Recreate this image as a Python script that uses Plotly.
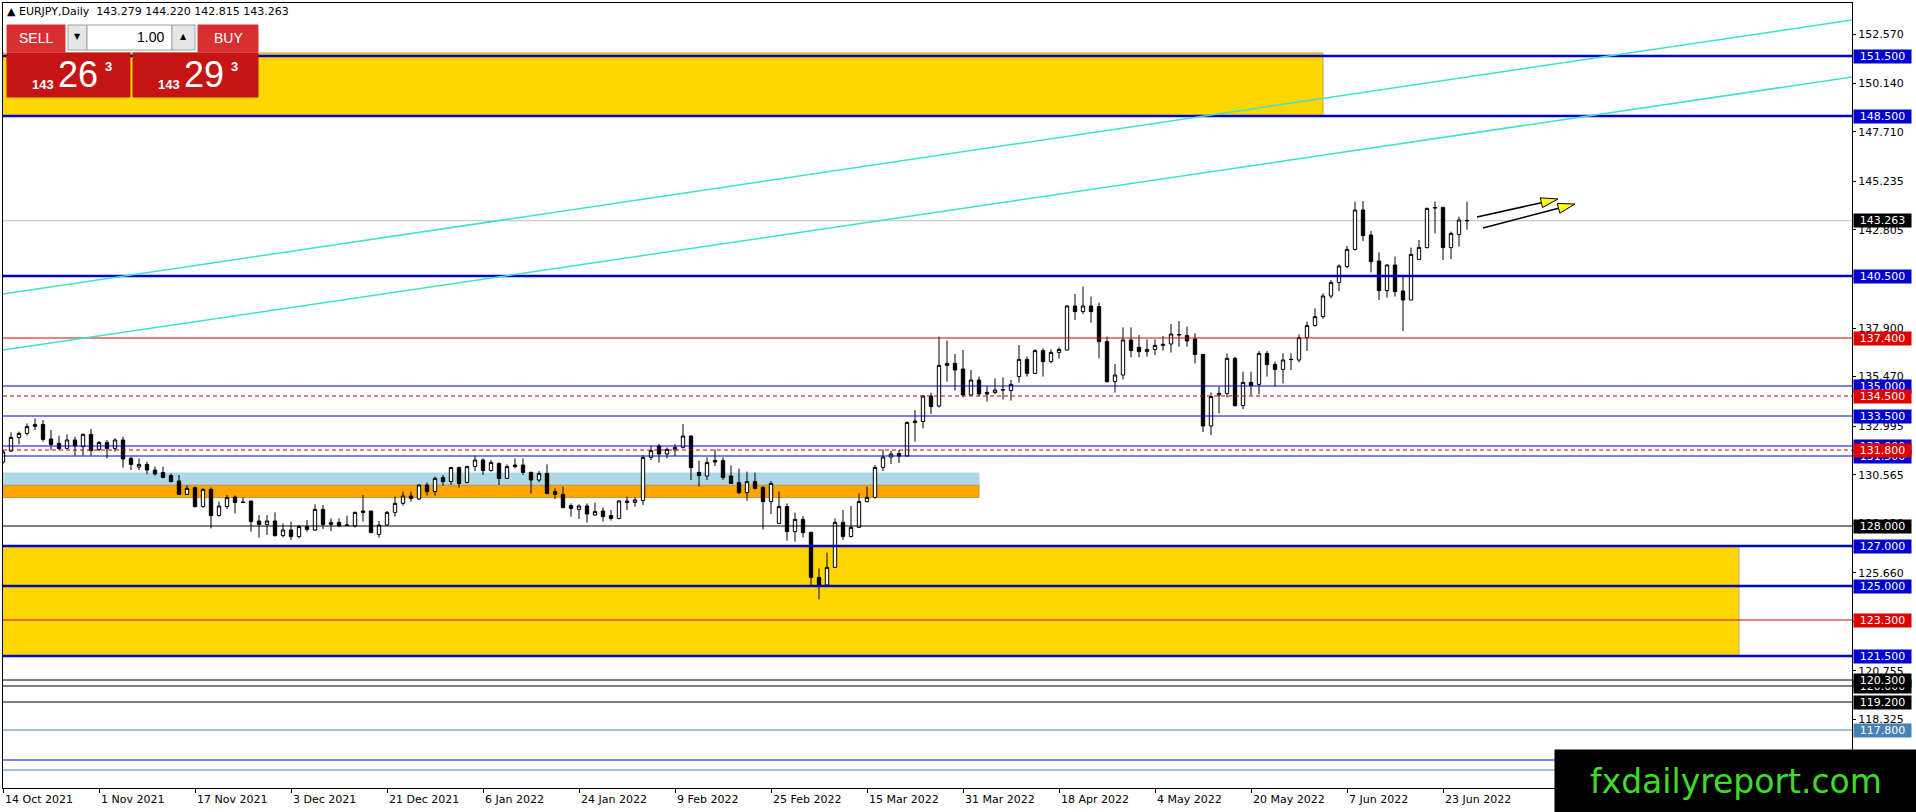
import math
import plotly.graph_objects as go

# EURJPY daily bars, one per weekday from 14 Oct 2021 to 28 Jun 2022
opens = [131.2, 131.75, 132.43, 132.63, 132.98, 133.08, 132.35, 132.13, 131.88, 132.3,
         131.97, 132.58, 131.83, 132.18, 131.88, 132.3, 131.38, 130.95, 131.08, 130.8,
         130.67, 130.52, 130.25, 129.58, 129.92, 128.97, 129.83, 128.52, 128.97, 129.45,
         129.2, 129.25, 128.25, 128.08, 128.25, 127.52, 127.8, 127.47, 127.97, 127.8,
         128.83, 128.08, 128.18, 128.02, 128.0, 128.75, 128.75, 127.58, 128.05, 128.68,
         129.13, 129.5, 129.35, 130.05, 129.72, 130.42, 130.22, 130.92, 130.18, 130.97,
         131.3, 130.77, 131.13, 130.38, 131.05, 131.05, 130.68, 130.3, 130.63, 129.72,
         129.58, 129.02, 128.83, 129.0, 128.55, 128.75, 128.52, 128.38, 129.25, 129.18,
         129.27, 131.43, 132.0, 131.6, 131.8, 131.93, 132.5, 130.68, 130.5, 131.27,
         131.27, 130.5, 130.17, 129.67, 130.22, 129.93, 129.22, 128.13, 128.97, 127.72,
         128.33, 127.68, 125.43, 125.05, 125.93, 128.18, 127.47, 127.93, 129.22, 129.43,
         130.93, 131.45, 131.62, 131.5, 133.25, 133.22, 134.5, 134.0, 136.03, 136.13,
         135.85, 134.55, 135.3, 134.68, 134.67, 134.8, 134.77, 135.47, 136.33, 135.63,
         136.77, 136.22, 136.68, 136.8, 139.0, 138.72, 139.0, 138.97, 137.22, 135.22,
         135.55, 137.3, 136.93, 136.72, 136.83, 137.03, 137.1, 137.55, 137.52, 137.35,
         136.58, 133.0, 134.55, 134.63, 136.38, 134.02, 135.18, 135.08, 136.63, 136.08,
         135.83, 136.32, 136.3, 137.42, 138.02, 138.47, 139.5, 140.18, 140.97, 141.83,
         143.8, 142.55, 141.25, 139.77, 141.05, 139.75, 139.3, 141.33, 141.92, 143.9,
         143.93, 141.92, 142.58, 143.279]
highs = [131.8, 132.68, 132.72, 133.13, 133.38, 133.3, 132.8, 132.52, 132.58, 132.47,
         132.63, 132.85, 132.25, 132.3, 132.38, 132.47, 131.47, 131.38, 131.22, 130.97,
         130.97, 130.63, 130.55, 130.05, 129.97, 129.88, 129.92, 129.22, 129.55, 129.52,
         129.42, 129.25, 128.55, 128.55, 128.68, 128.13, 128.22, 128.05, 128.3, 129.08,
         129.05, 128.38, 128.38, 128.52, 128.72, 129.55, 128.75, 128.25, 128.75, 129.47,
         129.72, 129.72, 130.08, 130.18, 130.47, 130.55, 130.97, 130.97, 131.02, 131.52,
         131.38, 131.3, 131.18, 131.08, 131.38, 131.38, 130.72, 130.75, 131.08, 129.88,
         129.97, 129.13, 129.08, 129.13, 129.17, 128.93, 128.8, 129.3, 129.47, 129.43,
         131.55, 132.0, 132.1, 131.93, 132.1, 133.1, 132.53, 131.27, 131.43, 131.83,
         131.43, 131.03, 130.87, 130.72, 130.67, 130.0, 130.25, 129.72, 129.13, 128.67,
         128.5, 127.72, 125.88, 126.67, 128.38, 128.8, 129.0, 129.63, 129.97, 131.05,
         131.83, 131.75, 131.8, 133.22, 133.8, 134.55, 134.67, 137.47, 137.27, 136.6,
         136.8, 135.8, 135.47, 135.0, 135.38, 135.43, 135.3, 137.05, 136.47, 136.83,
         136.88, 136.83, 136.93, 139.05, 139.6, 139.97, 139.47, 139.17, 137.47, 136.1,
         137.93, 137.93, 137.55, 137.33, 137.33, 137.5, 138.1, 138.25, 137.97, 137.63,
         136.6, 134.68, 134.97, 136.63, 136.47, 135.72, 135.72, 136.75, 136.75, 136.22,
         136.63, 136.63, 137.58, 138.22, 138.88, 139.63, 140.3, 141.08, 142.0, 144.22,
         144.25, 142.75, 141.68, 141.08, 141.47, 140.47, 141.92, 142.3, 143.92, 144.22,
         143.93, 142.72, 143.47, 144.22]
lows = [131.1, 131.7, 132.08, 132.52, 132.8, 132.22, 131.8, 131.8, 131.85, 131.52,
        131.52, 131.52, 131.75, 131.38, 131.72, 130.92, 130.8, 130.8, 130.58, 130.52,
        130.38, 130.18, 129.55, 129.55, 128.92, 128.92, 127.88, 128.47, 128.85, 128.63,
        129.17, 127.72, 127.42, 127.55, 127.47, 127.43, 127.3, 127.38, 127.72, 127.75,
        127.85, 127.75, 127.97, 128.0, 127.92, 128.22, 127.63, 127.42, 128.0, 128.47,
        129.02, 129.22, 129.3, 129.52, 129.52, 130.02, 130.05, 129.92, 130.13, 130.75,
        130.55, 130.72, 130.05, 130.35, 130.88, 130.55, 129.63, 130.18, 129.58, 129.35,
        128.88, 128.47, 128.35, 128.17, 128.5, 128.22, 128.27, 128.33, 128.8, 128.97,
        129.05, 131.3, 131.17, 131.38, 131.5, 131.87, 130.3, 129.97, 130.3, 131.0,
        130.3, 130.1, 129.6, 129.27, 129.83, 127.83, 128.6, 128.1, 127.27, 127.22,
        127.43, 124.97, 124.33, 124.97, 125.9, 127.3, 127.42, 127.9, 129.18, 129.38,
        130.75, 131.1, 131.15, 131.47, 132.22, 132.88, 133.6, 133.93, 135.22, 134.77,
        134.43, 134.5, 134.5, 134.22, 134.6, 134.33, 134.27, 135.17, 135.47, 135.6,
        135.47, 136.13, 136.37, 136.77, 138.3, 138.6, 138.17, 136.38, 135.17, 134.67,
        135.33, 136.43, 136.43, 136.47, 136.55, 136.77, 136.67, 136.97, 136.97, 136.13,
        132.7, 132.55, 133.63, 134.42, 133.97, 133.85, 134.52, 134.58, 135.47, 134.97,
        135.13, 135.8, 136.18, 136.75, 137.97, 138.35, 139.38, 139.75, 140.88, 141.77,
        142.25, 140.68, 139.3, 139.42, 139.47, 137.75, 139.3, 141.3, 141.88, 142.63,
        141.3, 141.35, 141.97, 142.815]
closes = [131.7, 132.43, 132.63, 132.97, 133.08, 132.33, 132.08, 131.88, 132.3, 132.0,
          132.58, 131.77, 132.18, 131.88, 132.3, 131.35, 131.08, 131.08, 130.8, 130.6,
          130.43, 130.22, 129.58, 129.88, 128.97, 129.83, 128.52, 129.0, 129.42, 129.18,
          129.18, 128.22, 128.08, 128.25, 127.52, 127.8, 127.47, 127.97, 127.83, 128.83,
          128.08, 128.18, 128.0, 128.05, 128.68, 128.68, 127.68, 128.05, 128.68, 129.13,
          129.5, 129.38, 130.05, 129.72, 130.38, 130.22, 130.92, 130.13, 130.97, 131.3,
          130.77, 131.18, 130.38, 130.97, 130.97, 130.68, 130.3, 130.63, 129.63, 129.58,
          128.92, 128.88, 129.0, 128.6, 128.72, 128.47, 128.38, 129.25, 129.18, 129.3,
          131.43, 131.77, 131.6, 131.83, 131.93, 132.5, 130.92, 130.52, 131.17, 131.2,
          130.43, 130.13, 129.67, 130.22, 129.88, 129.22, 130.13, 128.97, 127.72, 128.33,
          127.67, 125.43, 125.05, 125.93, 128.18, 127.47, 127.93, 129.22, 129.43, 130.93,
          131.45, 131.6, 131.5, 133.18, 133.17, 134.5, 133.97, 136.03, 136.13, 135.8,
          134.55, 135.3, 134.6, 134.6, 134.8, 134.82, 135.08, 136.33, 135.63, 136.77,
          136.22, 136.68, 136.83, 139.0, 138.72, 139.0, 138.72, 137.22, 135.22, 135.55,
          137.3, 136.77, 136.72, 136.83, 137.03, 137.08, 137.6, 137.57, 137.25, 136.58,
          133.0, 134.47, 134.63, 136.38, 134.02, 135.18, 135.02, 136.63, 136.08, 135.83,
          136.3, 136.33, 137.42, 138.02, 138.47, 139.5, 140.18, 141.0, 141.83, 143.8,
          142.52, 141.22, 139.77, 141.05, 139.72, 139.3, 141.58, 141.93, 143.88, 143.92,
          141.92, 142.63, 143.3, 143.263]

date_labels = ["14 Oct 2021", "1 Nov 2021", "17 Nov 2021", "3 Dec 2021", "21 Dec 2021",
               "6 Jan 2022", "24 Jan 2022", "9 Feb 2022", "25 Feb 2022", "15 Mar 2022",
               "31 Mar 2022", "18 Apr 2022", "4 May 2022", "20 May 2022", "7 Jun 2022",
               "23 Jun 2022"]
date_bars = [0, 12, 24, 36, 48, 60, 72, 84, 96, 108, 120, 132, 144, 156, 168, 180]

price_ticks = [152.570, 150.140, 147.710, 145.235, 142.805, 140.375, 137.900, 135.470,
               132.995, 130.565, 128.130, 125.660, 123.230, 120.755, 118.325]

last_price = 143.263

# horizontal levels drawn on the chart
level_prices = [151.5, 148.5, 140.5, 137.4, 135.0, 134.5, 133.5, 132.0, 131.8, 131.5,
                128.0, 127.0, 125.0, 123.3, 121.5, 120.3, 120.0, 119.2, 117.8, 116.3, 115.8]
level_kinds = ["major", "major", "major", "red", "blue", "reddash", "blue", "blue", "reddash", "blue",
               "black", "major", "major", "red", "major", "black", "black", "black", "steel", "blue", "steel"]
# labels on the price scale, in drawing order (later ones sit on top)
label_prices = [151.5, 148.5, 140.5, 137.4, 135.0, 134.5, 133.5, 132.0, 131.5, 131.8,
                128.0, 127.0, 125.0, 123.3, 121.5, 120.0, 120.3, 119.2, 117.8]

BLUE = "#0000D0"
RED = "#E00000"
STEEL = "#4682B4"
style = {
    "major": (BLUE, 2.5, "solid"),
    "blue": (BLUE, 1, "solid"),
    "red": (RED, 1, "solid"),
    "reddash": ("#C00000", 1, "4px,3px"),
    "black": ("black", 1, "solid"),
    "steel": (STEEL, 1, "solid"),
}
label_bg = {"major": BLUE, "blue": BLUE, "red": RED, "reddash": RED, "black": "black", "steel": STEEL}

FONT = "DejaVu Sans"

# pixel helpers: plot area is x 3..1852, y 3..788
def PX(px):
    return (px - 3) / 1849


def PY(py):
    return (788 - py) / 785


def DX(px):
    return (px - 3) / 8


def DY(py):
    return 151.5 - (py - 56) / 20


fig = go.Figure()
fig.add_trace(go.Candlestick(
    x=list(range(len(opens))), open=opens, high=highs, low=lows, close=closes,
    increasing=dict(line=dict(color="black", width=1), fillcolor="white"),
    decreasing=dict(line=dict(color="black", width=1), fillcolor="black"),
    whiskerwidth=0, showlegend=False, hoverinfo="skip",
))

shapes = []
# zones (below candles)
zones = [
    (165, 148.5, 151.65, "#FFD700", "#C8A030"),
    (217, 125.0, 127.0, "#FFD700", "#B8A880"),
    (217, 121.5, 125.0, "#FFD700", "#B8A880"),
    (122, 130.04, 130.65, "#ADD8E6", "#ADD8E6"),
    (122, 129.42, 130.04, "#FFA500", "#C89040"),
]
for x1, lo, hi, fill, edge in zones:
    shapes.append(dict(type="rect", xref="x", yref="y", x0=-1, x1=x1, y0=lo, y1=hi,
                       fillcolor=fill, line=dict(color=edge, width=1), layer="below"))

shapes.append(dict(type="line", xref="paper", yref="y", x0=0, x1=1, y0=last_price, y1=last_price,
                   line=dict(color="#C0C0C0", width=1), layer="below"))

for p, k in zip(level_prices, level_kinds):
    c, w, d = style[k]
    shapes.append(dict(type="line", xref="paper", yref="y", x0=0, x1=1, y0=p, y1=p,
                       line=dict(color=c, width=w, dash=d), layer="above"))

# trend channel
for y0, y1 in [(294, 20), (350, 77)]:
    shapes.append(dict(type="line", xref="x", yref="y", x0=DX(3), x1=DX(1852),
                       y0=DY(y0), y1=DY(y1), line=dict(color="#40E0D0", width=1.5), layer="above"))

# two arrows
for (sx, sy), (tx, ty) in [((1477, 217), (1558, 199)), ((1483, 228), (1575, 204))]:
    L = math.hypot(tx - sx, ty - sy)
    ux, uy = (tx - sx) / L, (ty - sy) / L
    bx, by = tx - 17 * ux, ty - 17 * uy
    nx, ny = -uy, ux
    shapes.append(dict(type="line", xref="x", yref="y", x0=DX(sx), y0=DY(sy), x1=DX(bx), y1=DY(by),
                       line=dict(color="black", width=1.5), layer="above"))
    path = "M {},{} L {},{} L {},{} Z".format(
        DX(tx), DY(ty), DX(bx + 5 * nx), DY(by + 5 * ny), DX(bx - 5 * nx), DY(by - 5 * ny))
    shapes.append(dict(type="path", xref="x", yref="y", path=path, fillcolor="#FFFF00",
                       line=dict(color="black", width=1), layer="above"))

# one-click trading panel
def box(x0, y0, x1, y1, fill, edge=None):
    shapes.append(dict(type="rect", xref="paper", yref="paper", x0=PX(x0), x1=PX(x1),
                       y0=PY(y1), y1=PY(y0), fillcolor=fill,
                       line=dict(color=edge or fill, width=1), layer="above"))


box(7, 25, 65, 52, "#D83030")
box(68, 25, 87, 50, "#E6E6E6", "#A0A0A0")
box(87, 25, 172, 50, "white", "#A0A0A0")
box(172, 25, 195, 50, "#E6E6E6", "#A0A0A0")
box(198, 25, 258, 52, "#D83030")
box(7, 53, 130, 97, "#C41414")
box(133, 53, 258, 97, "#C41414")

fig.update_layout(shapes=shapes)

ann = []


def text(px, py, s, size=11, color="black", family=FONT, xanchor="center", **kw):
    ann.append(dict(xref="paper", yref="paper", x=PX(px), y=PY(py), text=s, showarrow=False,
                    xanchor=xanchor, yanchor="middle",
                    font=dict(family=family, size=size, color=color), **kw))


text(5, 12, "▲ EURJPY,Daily  143.279 144.220 142.815 143.263", xanchor="left")
text(36, 38, "SELL", 14, "white", "Liberation Sans")
text(228, 38, "BUY", 14, "white", "Liberation Sans")
text(77, 37, "▼", 8)
text(183, 37, "▲", 8)
text(166, 37, "1.00", 14, family="Liberation Sans", xanchor="right")
for cx, big in [(0, "26"), (126, "29")]:
    text(43 + cx, 85, "<b>143</b>", 13, "white", "Liberation Sans")
    text(78 + cx, 75, big, 36, "white", "Liberation Sans")
    text(108 + cx, 67, "<b>3</b>", 13, "white", "Liberation Sans")

# date labels under the time axis
for b, s in zip(date_bars, date_labels):
    ann.append(dict(xref="x", yref="paper", x=b, y=0, text=s, showarrow=False,
                    xanchor="left", yanchor="top", xshift=0, yshift=-3,
                    font=dict(family=FONT, size=11, color="black")))

# level labels on the price scale
kind_of = dict(zip(level_prices, level_kinds))
labels = [(p, label_bg[kind_of[p]]) for p in label_prices[:10]] + [(last_price, "black")] + \
         [(p, label_bg[kind_of[p]]) for p in label_prices[10:]]
for p, bg in labels:
    ann.append(dict(xref="paper", yref="y", x=1, y=p, text="%.3f" % p, showarrow=False,
                    xanchor="left", yanchor="middle", xshift=1, width=57, height=13,
                    bgcolor=bg, borderpad=0, font=dict(family=FONT, size=11, color="white")))

# watermark
ann.append(dict(xref="paper", yref="paper", x=PX(1554), y=PY(749), text="fxdailyreport.com",
                showarrow=False, xanchor="left", yanchor="top", width=362, height=63,
                bgcolor="black", borderpad=0,
                font=dict(family=FONT, size=33, color="#3CDC28")))

fig.update_layout(
    annotations=ann,
    width=1916, height=812,
    margin=dict(l=3, r=64, t=3, b=24),
    paper_bgcolor="white", plot_bgcolor="white",
    font=dict(family=FONT, size=11, color="black"),
    boxgap=0.4,
    showlegend=False,
    xaxis=dict(range=[0, 231.125], tickvals=date_bars, showticklabels=False, ticks="outside",
               ticklen=4, tickcolor="black", showline=True, linecolor="black", linewidth=1,
               mirror=True, showgrid=False, zeroline=False, rangeslider=dict(visible=False),
               fixedrange=True),
    yaxis=dict(range=[114.9, 154.15], side="right", tickvals=price_ticks,
               ticktext=["%.3f" % v for v in price_ticks], ticks="outside", ticklen=3,
               tickcolor="black", showline=True, linecolor="black", linewidth=1, mirror=True,
               showgrid=False, zeroline=False, tickfont=dict(family=FONT, size=11, color="black"),
               fixedrange=True),
)

# the page's default body margin would push the chart 8px right and down
fig.write_html("out.html", config={"displayModeBar": False},
               post_script="document.body.style.margin='0';")
